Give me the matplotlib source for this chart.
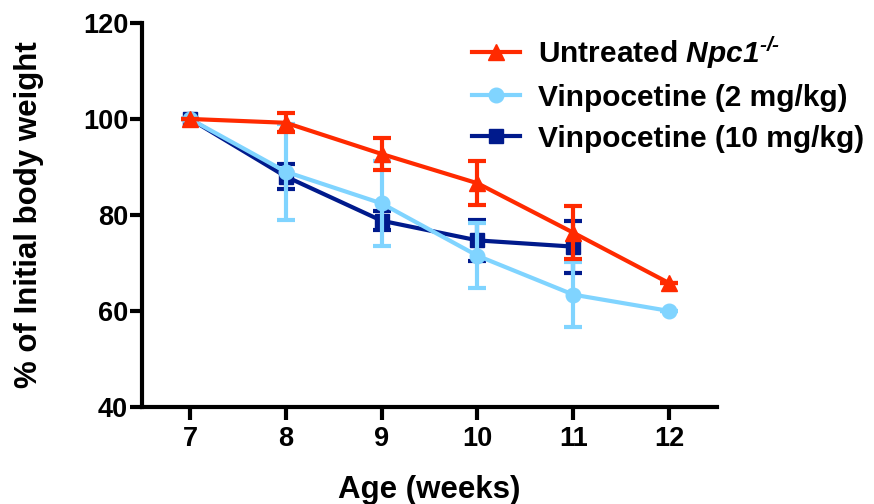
import numpy as np
import matplotlib
matplotlib.use('Agg')
import matplotlib.pyplot as plt

plt.rcParams['font.family'] = ['Liberation Sans', 'DejaVu Sans']
plt.rcParams['font.weight'] = 'bold'
plt.rcParams['mathtext.fontset'] = 'custom'
plt.rcParams['mathtext.rm'] = 'Liberation Sans:italic:bold'
plt.rcParams['mathtext.it'] = 'Liberation Sans:italic:bold'
plt.rcParams['mathtext.bf'] = 'Liberation Sans:bold'

# weeks of age
weeks = [7, 8, 9, 10, 11, 12]

# % of initial body weight, mean and error
untreated = [100, 99.2, 92.7, 86.6, 76.3, 65.8]
untreated_err = [0, 2.0, 3.4, 4.6, 5.5, 0]

vin2 = [100, 89.0, 82.4, 71.5, 63.4, 60.0]
vin2_err = [0, 10.0, 8.8, 6.8, 6.7, 0]

# 10 mg/kg group stops at week 11
vin10 = [100, 88.0, 78.8, 74.7, 73.4]
vin10_err = [0, 2.6, 2.0, 4.2, 5.4]

fig = plt.figure(figsize=(8.74, 5.04), dpi=100)
ax = fig.add_axes([0.1625, 0.1925, 0.658, 0.762])

c_red = '#FF2A00'
c_light = '#80D4FF'
c_dark = '#001A8C'

style = dict(lw=3, capsize=6.5, capthick=3, elinewidth=3)
e10 = ax.errorbar(weeks[:len(vin10)], vin10, yerr=vin10_err, color=c_dark,
                  marker='s', ms=10, zorder=2, **style)
e2 = ax.errorbar(weeks, vin2, yerr=vin2_err, color=c_light,
                 marker='o', ms=10.5, zorder=3, **style)
eu = ax.errorbar(weeks, untreated, yerr=untreated_err, color=c_red,
                 marker='^', ms=11, zorder=4, **style)

ax.set_xlim(6.5, 12.5)
ax.set_ylim(40, 120)
ax.set_xticks(weeks)
ax.set_yticks([40, 60, 80, 100, 120])

for side in ['top', 'right']:
    ax.spines[side].set_visible(False)
for side in ['left', 'bottom']:
    ax.spines[side].set_linewidth(3)
ax.tick_params(width=3, length=9, labelsize=19.5)
ax.tick_params(axis='y', pad=1)
ax.tick_params(axis='x', pad=5)

ax.set_xlabel('Age (weeks)', fontsize=22.5, fontweight='bold', labelpad=16)
ax.set_ylabel('% of Initial body weight', fontsize=22.5, fontweight='bold', labelpad=28)

leg = fig.legend([eu[0], e2[0], e10[0]],
                 [r'Untreated $\mathrm{Npc1}^{\text{-/-}}$',
                  'Vinpocetine (2 mg/kg)', 'Vinpocetine (10 mg/kg)'],
                 loc='upper left', bbox_to_anchor=(472 / 874, 1 - 34 / 504),
                 frameon=False, fontsize=21.5, handlelength=1.6,
                 handletextpad=0.62, labelspacing=0.44, borderpad=0,
                 borderaxespad=0, numpoints=1)
for t in leg.get_texts():
    t.set_fontweight('bold')

fig.savefig('out.png', dpi=100)
